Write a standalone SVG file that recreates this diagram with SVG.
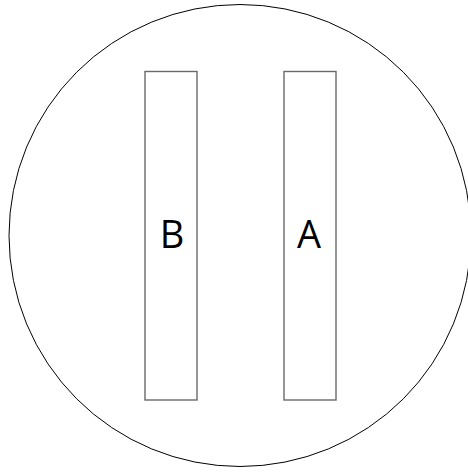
<svg xmlns="http://www.w3.org/2000/svg" width="468" height="472" viewBox="0 0 468 472">
<style>
.bar{fill:#fff;stroke:#6a6a6a;stroke-width:1.4}
.lbl{font-family:"Open Sans","Liberation Sans",sans-serif;font-size:38px;fill:#000;text-anchor:middle}
</style>
<rect width="468" height="472" fill="#fff"/>
<g id="circle"><circle cx="240" cy="235.5" r="231" fill="none" stroke="#000" stroke-width="1"/></g>
<g id="nodeB"><rect class="bar" x="145" y="71.5" width="52" height="328.5"/><text class="lbl" x="172" y="248">B</text></g>
<g id="nodeA"><rect class="bar" x="284" y="71.5" width="52" height="328.5"/><text class="lbl" x="309" y="248">A</text></g>
<g id="connectors"></g>
</svg>
